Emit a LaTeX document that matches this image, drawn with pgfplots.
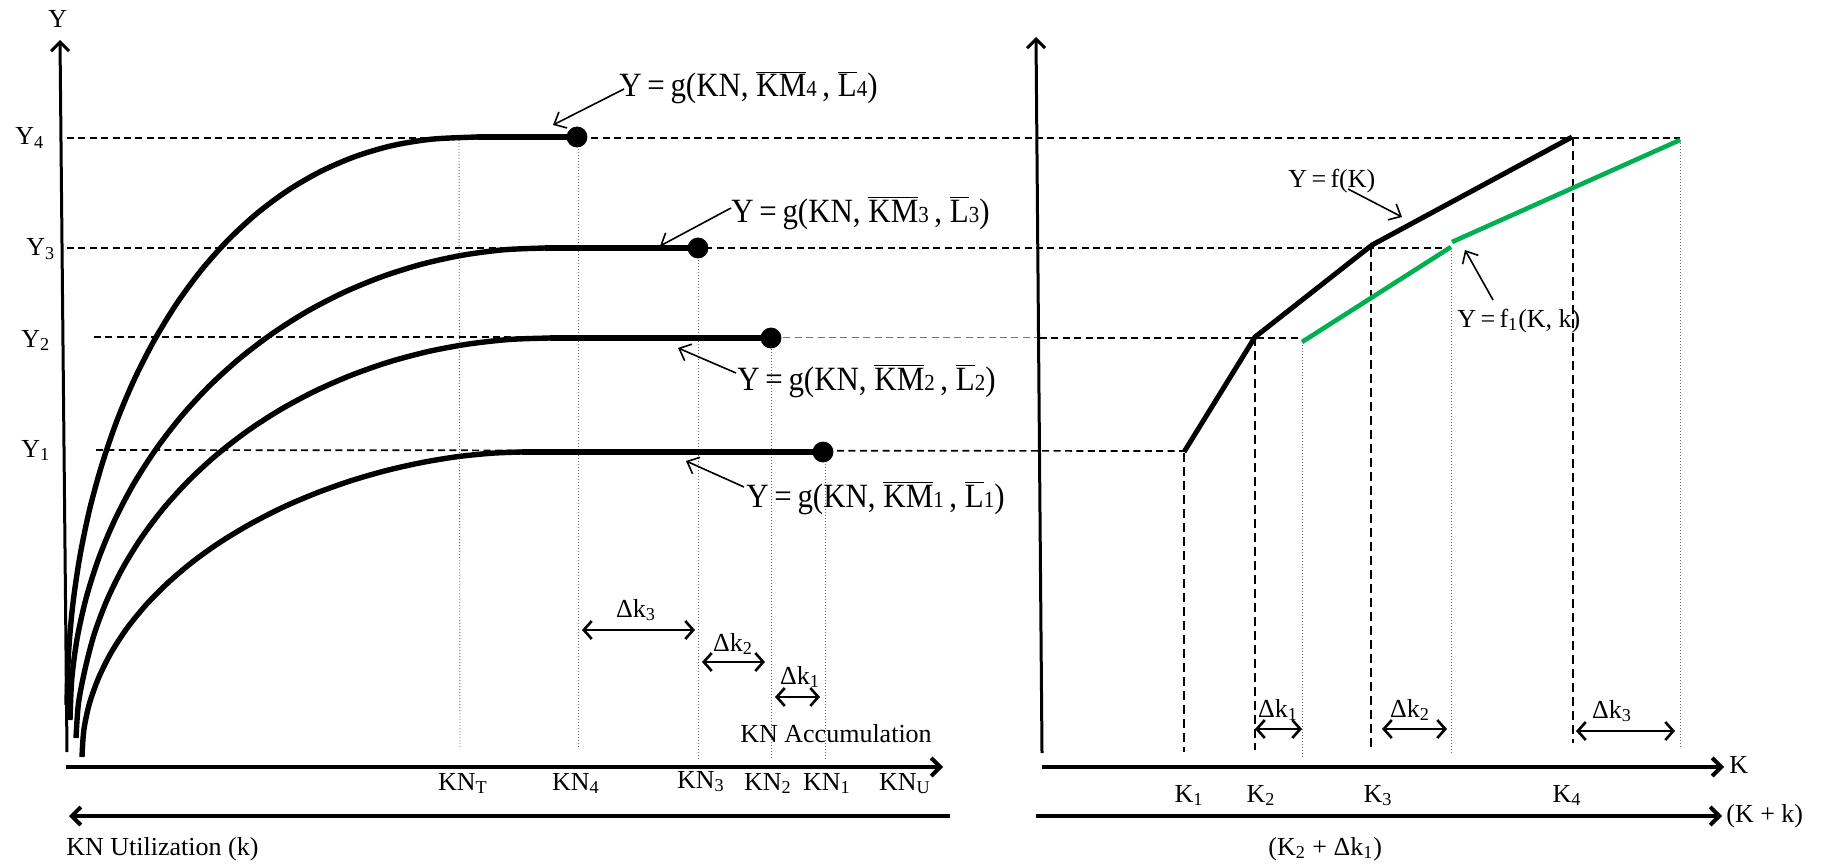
\documentclass[border=0pt]{standalone}
\usepackage{fontspec}
\setmainfont{Liberation Serif}
\newfontfamily\gfont{Liberation Serif}[FakeStretch=0.91]
\usepackage{pgfplots}
\pgfplotsset{compat=1.18}
\usetikzlibrary{arrows.meta}
\definecolor{xgreen}{RGB}{0,176,80}
\newcommand{\ob}[1]{$\overline{\mbox{#1}}$}
\newcommand{\sm}[1]{{\fontsize{11.5}{13}\selectfont #1}}
\newcommand{\gl}[1]{{\gfont\fontsize{17}{19}\selectfont Y\,=\,g(KN, \ob{KM}\sm{#1}\,, \ob{L}\sm{#1})}}
\tikzset{
  dsh/.style={black, line width=0.85pt, dash pattern=on 3.5pt off 2.2pt},
  vdsh/.style={black, line width=0.8pt, dash pattern=on 4.5pt off 2.5pt},
  dtt/.style={black!60, line width=0.45pt, dash pattern=on 0.5pt off 1pt},
  plat/.style={black, line width=3.4pt},
  ann/.style={black, line width=0.8pt, -{Straight Barb[length=5pt,width=9pt]}},
  dbl/.style={black, line width=1.3pt, {Straight Barb[length=4pt,width=9pt]}-{Straight Barb[length=4pt,width=9pt]}},
  axarr/.style={black, line width=2pt, -{Straight Barb[length=4.5pt,width=9pt]}},
  lab/.style={inner sep=0pt}
}
\begin{document}
\fontsize{13}{15}\selectfont
\begin{tikzpicture}
\begin{axis}[hide axis, scale only axis, width=911.5pt, height=433pt,
  xmin=0, xmax=1823, ymin=0, ymax=866, y dir=reverse, clip=false]
% ---------- horizontal dashed guide lines ----------
\addplot[dsh] coordinates {(67,138) (1680,138)};
\addplot[dsh] coordinates {(67,248) (1451,248)};
\addplot[dsh] coordinates {(94,337) (772,337)};
\addplot[dsh, black!55, line width=0.5pt] coordinates {(772,337) (1040,337)};
\addplot[dsh] coordinates {(1040,338) (1302,338)};
\addplot[dsh] coordinates {(96,450) (1184,451)};
% ---------- left vertical dotted lines ----------
\addplot[dtt] coordinates {(459,137) (460,747)};
\addplot[dtt] coordinates {(578,137) (578,748)};
\addplot[dtt] coordinates {(698,248) (698,760)};
\addplot[dtt] coordinates {(771,337) (771,760)};
\addplot[dtt] coordinates {(825,452) (825,760)};
% ---------- right vertical dashed / dotted lines ----------
\addplot[vdsh] coordinates {(1184,453) (1184,752)};
\addplot[vdsh] coordinates {(1255,337) (1255,750)};
\addplot[vdsh] coordinates {(1371,248) (1371,748)};
\addplot[vdsh] coordinates {(1573,137) (1573,743)};
\addplot[dtt] coordinates {(1302,342) (1302,758)};
\addplot[dtt] coordinates {(1451,248) (1451,753)};
\addplot[dtt] coordinates {(1680,140) (1680,747)};
% ---------- left curves ----------
\addplot[black, line width=2.7pt, smooth] coordinates {(67,705) (68.4,655.5) (72.6,606.4) (79.6,558) (89.3,510.7) (101.8,465) (116.8,421) (134.4,379.2) (154.5,339.9) (176.8,303.4) (201.5,269.9) (228.4,239.7) (257.3,213.1) (288.2,190.2) (320.9,171.3) (355.5,156.4) (392.2,145.6) (431.4,139.2) (477,137) (490,137)};
\addplot[black, line width=2.7pt, smooth] coordinates {(70,720) (71.8,678.8) (77.2,638.1) (86.2,597.8) (98.6,558.6) (114.5,520.5) (133.6,484) (155.9,449.3) (181.1,416.6) (209.1,386.2) (239.7,358.4) (272.5,333.4) (307.5,311.2) (344.3,292.2) (382.5,276.5) (422.1,264.1) (462.5,255.2) (503.6,249.8) (545,248) (560,248)};
\addplot[black, line width=2.7pt, smooth] coordinates {(76,738) (78.5,703.1) (85.2,668.5) (94.1,634.5) (106.5,601.2) (122.2,569) (141.2,538) (163.3,508.6) (188.4,480.9) (216.2,455.2) (246.6,431.6) (279.3,410.3) (314,391.6) (350.5,375.5) (388.6,362.1) (427.8,351.6) (468,344.1) (508.9,339.5) (550,338) (565,338)};
\addplot[black, line width=2.7pt, smooth] coordinates {(82,757) (83.8,730.4) (89.3,704) (98.5,678.1) (111.1,652.7) (127.1,628.1) (146.4,604.5) (168.7,582.1) (193.8,560.9) (221.5,541.3) (251.4,523.4) (283.3,507.1) (316.7,492.9) (351.4,480.6) (386.8,470.4) (422.5,462.4) (457.9,456.6) (491.9,453.2) (522,452) (535,452)};
\addplot[plat] coordinates {(477,137) (577,137)};
\addplot[plat] coordinates {(545,248) (698,248)};
\addplot[plat] coordinates {(550,338) (771,338)};
\addplot[plat] coordinates {(522,452) (823,452)};
\addplot[only marks, mark=*, mark size=5pt, black] coordinates {(577,137) (698,248) (771,338) (823,452)};
% ---------- right lines ----------
\addplot[black, line width=2.5pt] coordinates {(1184,452) (1255,337) (1372,245) (1572,137)};
\addplot[xgreen, line width=2.3pt] coordinates {(1302,342) (1451,247)};
\addplot[xgreen, line width=2.3pt] coordinates {(1452,242) (1680,140)};
% ---------- axes ----------
\addplot[axarr, line width=1.5pt] coordinates {(67,752) (60,40)};
\addplot[axarr] coordinates {(66,767) (943,767)};
\addplot[axarr] coordinates {(950,816) (69,816)};
\addplot[axarr, line width=1.5pt] coordinates {(1042,753) (1036,37)};
\addplot[axarr] coordinates {(1042,767) (1724,767)};
\addplot[axarr] coordinates {(1036,816) (1722,816)};
% ---------- delta k arrows ----------
\addplot[dbl] coordinates {(582,630) (695,630)};
\addplot[dbl] coordinates {(702,662) (765,662)};
\addplot[dbl] coordinates {(775,697) (820,697)};
\addplot[dbl] coordinates {(1255,729) (1302,729)};
\addplot[dbl] coordinates {(1382,729) (1447,729)};
\addplot[dbl] coordinates {(1576,731) (1675,731)};
% ---------- annotation arrows ----------
\addplot[ann] coordinates {(624,89) (553,125)};
\addplot[ann] coordinates {(731,208) (660,246)};
\addplot[ann] coordinates {(736,373) (678,348)};
\addplot[ann] coordinates {(744,487) (686,461)};
\addplot[ann] coordinates {(1348,189) (1402,217)};
\addplot[ann] coordinates {(1493,300) (1465,250)};
% ---------- texts ----------
\node[lab, anchor=base west] at (axis cs:48,28) {Y};
\node[lab, anchor=base west] at (axis cs:15,145) {Y\textsubscript{4}};
\node[lab, anchor=base west] at (axis cs:26,256) {Y\textsubscript{3}};
\node[lab, anchor=base west] at (axis cs:21,347) {Y\textsubscript{2}};
\node[lab, anchor=base west] at (axis cs:21,457) {Y\textsubscript{1}};
\node[lab, anchor=base west] at (axis cs:619,97) {\gl{4}};
\node[lab, anchor=base west] at (axis cs:731,222) {\gl{3}};
\node[lab, anchor=base west] at (axis cs:737,390) {\gl{2}};
\node[lab, anchor=base west] at (axis cs:746,507) {\gl{1}};
\node[lab, anchor=base] at (axis cs:636,617) {Δk\textsubscript{3}};
\node[lab, anchor=base] at (axis cs:733,651) {Δk\textsubscript{2}};
\node[lab, anchor=base] at (axis cs:800,684) {Δk\textsubscript{1}};
\node[lab, anchor=base west] at (axis cs:740,742) {KN Accumulation};
\node[lab, anchor=base] at (axis cs:463,790) {KN\textsubscript{T}};
\node[lab, anchor=base] at (axis cs:576,790) {KN\textsubscript{4}};
\node[lab, anchor=base] at (axis cs:701,788) {KN\textsubscript{3}};
\node[lab, anchor=base] at (axis cs:768,790) {KN\textsubscript{2}};
\node[lab, anchor=base] at (axis cs:827,790) {KN\textsubscript{1}};
\node[lab, anchor=base] at (axis cs:905,790) {KN\textsubscript{U}};
\node[lab, anchor=base west] at (axis cs:66,855) {KN Utilization (k)};
{\fontsize{15}{17}\selectfont
\node[lab, anchor=base west] at (axis cs:1288,188) {Y\,=\,f(K)};
\node[lab, anchor=base west] at (axis cs:1457,327) {Y\,=\,f\textsubscript{1}(K, k)};
}
\node[lab, anchor=base] at (axis cs:1278,717) {Δk\textsubscript{1}};
\node[lab, anchor=base] at (axis cs:1410,717) {Δk\textsubscript{2}};
\node[lab, anchor=base] at (axis cs:1612,718) {Δk\textsubscript{3}};
\node[lab, anchor=base] at (axis cs:1189,802) {K\textsubscript{1}};
\node[lab, anchor=base] at (axis cs:1261,802) {K\textsubscript{2}};
\node[lab, anchor=base] at (axis cs:1378,802) {K\textsubscript{3}};
\node[lab, anchor=base] at (axis cs:1567,802) {K\textsubscript{4}};
\node[lab, anchor=base west] at (axis cs:1729,773) {K};
\node[lab, anchor=base west] at (axis cs:1726,822) {(K + k)};
\node[lab, anchor=base west] at (axis cs:1268,855) {(K\textsubscript{2} + Δk\textsubscript{1})};
\end{axis}
\pgfresetboundingbox
\path[use as bounding box] (current axis.south west) rectangle (current axis.north east);
\end{tikzpicture}
\end{document}
